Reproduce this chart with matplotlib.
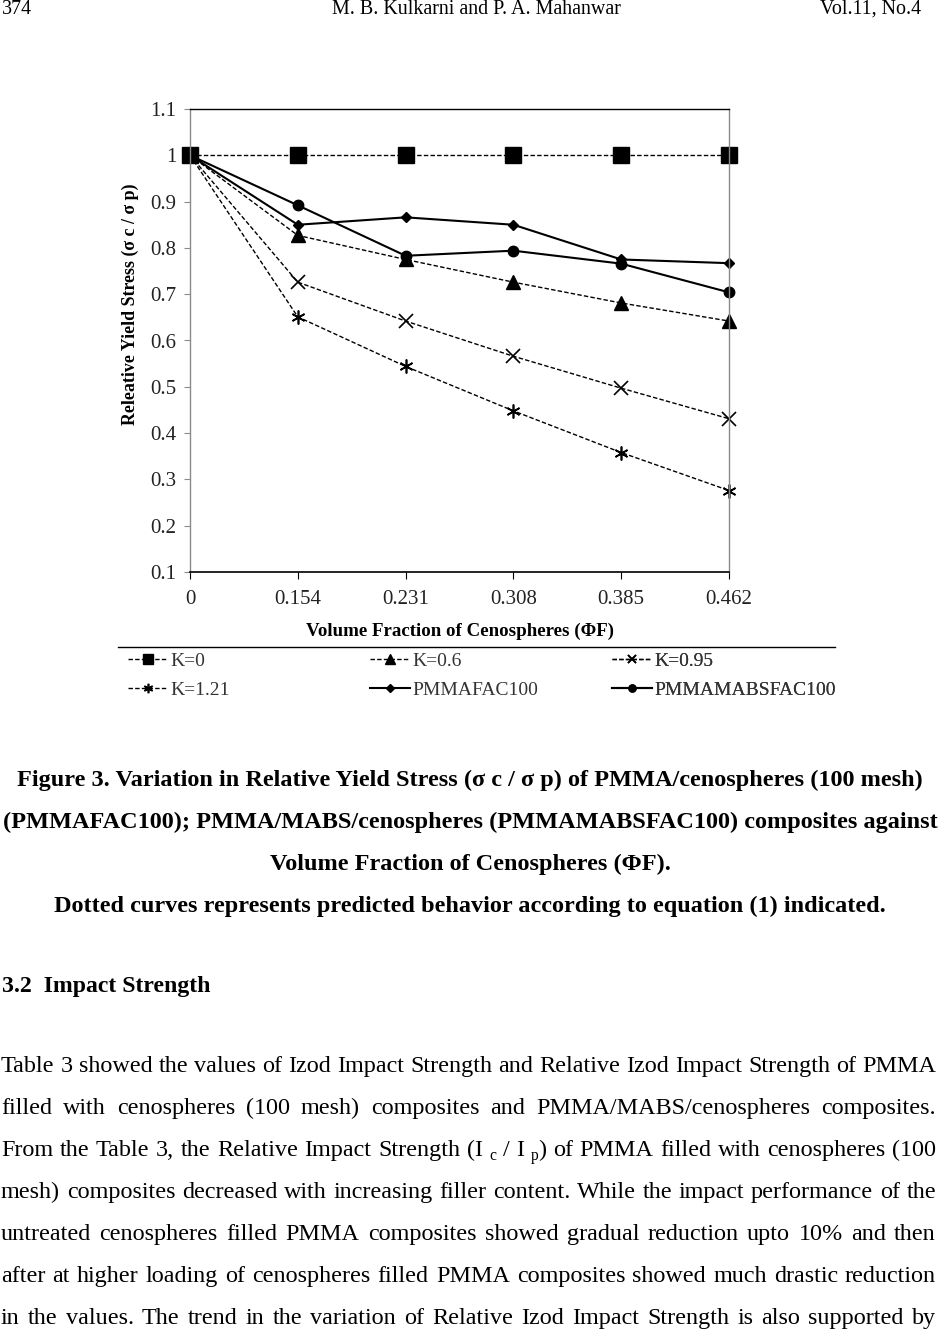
import matplotlib
matplotlib.use('Agg')
import matplotlib.pyplot as plt
from matplotlib.lines import Line2D

plt.rcParams['font.family'] = ['Liberation Serif', 'DejaVu Serif']

W, H = 938, 1330

# values
phi_labels = ['0', '0.154', '0.231', '0.308', '0.385', '0.462']
k_0 = [1.0, 1.0, 1.0, 1.0, 1.0, 1.0]
k_06 = [1.0, 0.827, 0.775, 0.726, 0.681, 0.642]
k_095 = [1.0, 0.726, 0.642, 0.566, 0.497, 0.431]
k_121 = [1.0, 0.651, 0.544, 0.448, 0.358, 0.276]
pmmafac100 = [1.0, 0.850, 0.866, 0.850, 0.775, 0.767]
pmmamabsfac100 = [1.0, 0.892, 0.783, 0.794, 0.766, 0.704]
y_ticks = [0.1, 0.2, 0.3, 0.4, 0.5, 0.6, 0.7, 0.8, 0.9, 1.0, 1.1]
y_tick_labels = ['0.1', '0.2', '0.3', '0.4', '0.5', '0.6', '0.7', '0.8', '0.9', '1', '1.1']

header = ['374', 'M. B. Kulkarni and P. A. Mahanwar', 'Vol.11, No.4']
caption = [
    'Figure 3. Variation in Relative Yield Stress (σ c / σ p) of PMMA/cenospheres (100 mesh)',
    '(PMMAFAC100); PMMA/MABS/cenospheres (PMMAMABSFAC100) composites against',
    'Volume Fraction of Cenospheres (ΦF).',
    'Dotted curves represents predicted behavior according to equation (1) indicated.',
]
heading = '3.2  Impact Strength'
body = [
    'Table 3 showed the values of Izod Impact Strength and Relative Izod Impact Strength of PMMA',
    'filled with cenospheres (100 mesh) composites and PMMA/MABS/cenospheres composites.',
    'From the Table 3, the Relative Impact Strength (I _c / I _p) of PMMA filled with cenospheres (100',
    'mesh) composites decreased with increasing filler content. While the impact performance of the',
    'untreated cenospheres filled PMMA composites showed gradual reduction upto 10% and then',
    'after at higher loading of cenospheres filled PMMA composites showed much drastic reduction',
    'in the values. The trend in the variation of Relative Izod Impact Strength is also supported by',
]

fig = plt.figure(figsize=(W / 100, H / 100), dpi=100)
renderer = fig.canvas.get_renderer()


def fy(y):
    return 1 - y / H


def width_px(t):
    return t.get_window_extent(renderer).width


def fit(t, target, vertical=False):
    bb = t.get_window_extent(renderer)
    cur = bb.height if vertical else bb.width
    t.set_fontsize(t.get_fontsize() * target / cur)
    return t.get_fontsize()


# ---- chart ----
ax = fig.add_axes([190 / W, fy(572), (729 - 190) / W, 463 / H])
x = range(len(phi_labels))
dsh = (3.2, 1.6)
ax.plot(x, k_0, color='black', lw=1.0, dashes=dsh, marker='s', ms=11.5, label='K=0')
ax.plot(x, k_06, color='black', lw=1.0, dashes=dsh, marker='^', ms=10.5, label='K=0.6')
ax.plot(x, k_095, color='black', lw=1.0, dashes=dsh, marker='x', ms=9.5, mew=1.2, label='K=0.95')
ax.plot(x, k_121, color='black', lw=1.0, dashes=dsh, marker=(6, 2, 0), ms=10, mew=1.2, label='K=1.21')
ax.plot(x, pmmafac100, color='black', lw=1.5, marker='D', ms=5.5, label='PMMAFAC100')
ax.plot(x, pmmamabsfac100, color='black', lw=1.5, marker='o', ms=7.5, label='PMMAMABSFAC100')
for ln in ax.get_lines():
    ln.set_clip_on(False)

ax.set_xlim(0, len(phi_labels) - 1)
ax.set_ylim(0.1, 1.1)
ax.set_xticks(list(x), phi_labels)
ax.set_yticks(y_ticks, y_tick_labels)
for s in ['left', 'right']:
    ax.spines[s].set_color('#8a8a8a')
    ax.spines[s].set_linewidth(1.0)
ax.spines['top'].set_linewidth(1.0)
ax.spines['bottom'].set_linewidth(1.2)
ax.tick_params(axis='x', direction='out', length=5, width=0.8, pad=8, labelsize=15)
ax.tick_params(axis='y', direction='out', length=4, width=0.8, color='#8a8a8a', pad=6, labelsize=15)
for lab in ax.get_xticklabels() + ax.get_yticklabels():
    lab.set_color('#222222')

xl = ax.set_xlabel('Volume Fraction of Cenospheres (ΦF)', fontweight='bold', fontsize=14)
yl = ax.set_ylabel('Releative Yield Stress (σ c / σ p)', fontweight='bold', fontsize=14)
fit(xl, 308)
fit(yl, 242, vertical=True)
ax.xaxis.set_label_coords((460 - 190) / 539, (572 - 623) / 463)
ax.yaxis.set_label_coords((139 - 190) / 539, (572 - 304) / 463)

# legend below the x label, separated by a rule
fig.add_artist(Line2D([118 / W, 835 / W], [fy(647), fy(647)], color='black', lw=1.0,
                      transform=fig.transFigure))
lines = ax.get_lines()
for x0, idx in [(128, [0, 3]), (370, [1, 4]), (612, [2, 5])]:
    leg = ax.legend([lines[i] for i in idx], [lines[i].get_label() for i in idx],
                    loc='upper left', bbox_to_anchor=(x0 / W, fy(652)),
                    bbox_transform=fig.transFigure, frameon=False, borderpad=0,
                    borderaxespad=0, handlelength=2.05, handletextpad=0.12,
                    labelspacing=0.6, fontsize=14, labelcolor='#333333',
                    numpoints=1, markerscale=0.68)
    ax.add_artist(leg)

# ---- page text ----
t = fig.text(476 / W, fy(14), header[1], fontsize=12, va='baseline', ha='center')
hsize = fit(t, 289)
fig.text(2 / W, fy(14), header[0], fontsize=hsize, va='baseline', ha='left')
fig.text(921 / W, fy(14), header[2], fontsize=hsize, va='baseline', ha='right')

c0 = fig.text(469.5 / W, fy(786), caption[0], fontsize=18, fontweight='bold',
              va='baseline', ha='center')
csize = fit(c0, 903)
for i, line in enumerate(caption[1:], start=1):
    fig.text(470 / W, fy(786 + 42 * i), line, fontsize=csize, fontweight='bold',
             va='baseline', ha='center')

hd = fig.text(2 / W, fy(992), heading, fontsize=17, fontweight='bold', va='baseline', ha='left')
fit(hd, 208)

# justified body text
bsize = 16
probe = [fig.text(0, 0, ln.replace('_', ''), fontsize=bsize) for ln in body]
widest = max(width_px(p) for p in probe)
for p in probe:
    p.remove()
bsize = bsize * 934 / widest
left, right = 1, 936
for i, line in enumerate(body):
    base = 1072 + 42 * i
    words = line.split(' ')
    pieces = []
    for w in words:
        segs = []
        if w.startswith('_'):
            segs.append((w[1], True))
            if len(w) > 2:
                segs.append((w[2:], False))
        else:
            segs.append((w, False))
        objs = []
        for s, sub in segs:
            o = fig.text(0, 0, s, fontsize=bsize * (0.65 if sub else 1.0), va='baseline')
            objs.append((o, sub))
        pieces.append(objs)
    wlens = [sum(width_px(o) for o, _ in objs) for objs in pieces]
    gap = (right - left - sum(wlens)) / (len(pieces) - 1)
    xpos = left
    for objs, wl in zip(pieces, wlens):
        xx = xpos
        for o, sub in objs:
            o.set_position((xx / W, fy(base + (4 if sub else 0))))
            xx += width_px(o)
        xpos += wl + gap

fig.savefig('out.png', dpi=100)
